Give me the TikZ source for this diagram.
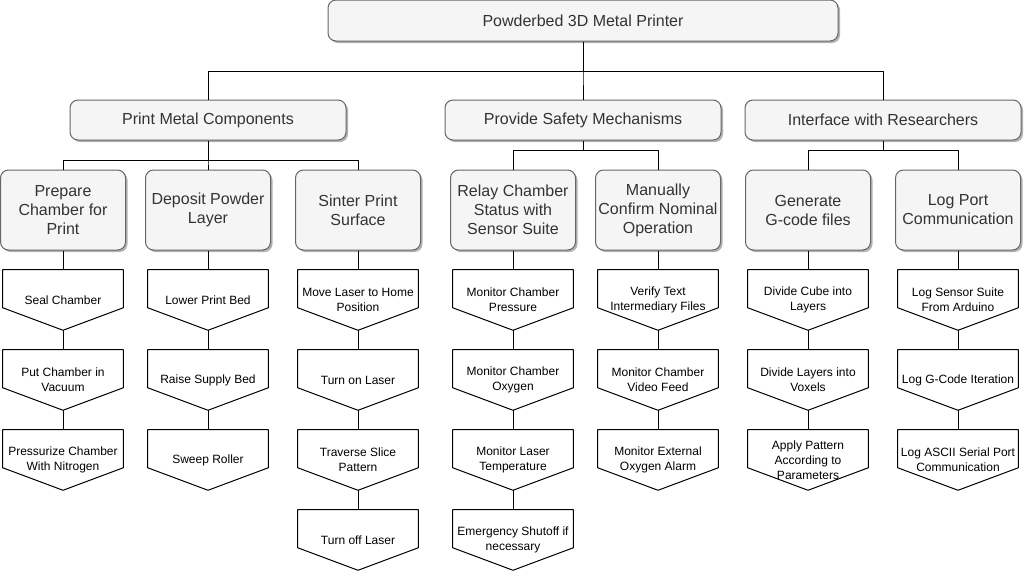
\documentclass[tikz,border=0pt]{standalone}
\usepackage{fontspec}
\setmainfont{Liberation Sans}
\usetikzlibrary{shadows}
\definecolor{boxfill}{HTML}{F5F5F5}
\definecolor{boxline}{HTML}{666666}
\definecolor{boxtext}{HTML}{333333}
\tikzset{
  goal/.style={draw=boxline, fill=boxfill, text=boxtext, line width=0.75pt, rounded corners=6pt,
    align=center, inner sep=0pt, font=\fontsize{12}{14.25}\selectfont,
    drop shadow={opacity=0.3, shadow xshift=1.5pt, shadow yshift=-1.5pt, fill=black}},
  topgoal/.style={goal, minimum width=382.5pt, minimum height=30.75pt},
  subgoal/.style={goal, minimum width=207pt, minimum height=30pt},
  task/.style={goal, minimum width=93.75pt, minimum height=60pt},
  leaf/.style={minimum width=90pt, minimum height=45pt, inner sep=0pt, align=center,
    font=\fontsize{9}{11.25}\selectfont},
  link/.style={draw=black, line width=0.75pt}
}
\begin{document}
\begin{tikzpicture}[x=0.75pt, y=-0.75pt, line join=round]
	\fill[white] (0,0) rectangle (1024,572);
	\useasboundingbox (0,0) rectangle (1024,572);
	% top and second level
	\node[topgoal] (printer) at (583,20.5) {Powderbed 3D Metal Printer};
	\node[subgoal] (metal) at (208,120) {Print Metal Components};
	\node[subgoal] (safety) at (583,120) {Provide Safety Mechanisms};
	\node[subgoal] (iface) at (883,120) {Interface with Researchers};
	% third level
	\node[task] (prep) at (63,210) {Prepare\\Chamber for\\Print};
	\node[task] (depo) at (208,210) {Deposit Powder\\Layer};
	\node[task] (sint) at (358,210) {Sinter Print\\Surface};
	\node[task] (relay) at (513,210) {Relay Chamber\\Status with\\Sensor Suite};
	\node[task] (manu) at (658,210) {Manually\\Confirm Nominal\\Operation};
	\node[task] (gcode) at (808,210) {Generate\\G-code files};
	\node[task] (logp) at (958,210) {Log Port\\Communication};
	% steps
	\node[leaf] (seal) at (63,300) {Seal Chamber};
	\node[leaf] (vac) at (63,380) {Put Chamber in\\Vacuum};
	\node[leaf] (nitro) at (63,460) {Pressurize Chamber\\With Nitrogen};
	\node[leaf] (lower) at (208,300) {Lower Print Bed};
	\node[leaf] (raise) at (208,380) {Raise Supply Bed};
	\node[leaf] (sweep) at (208,460) {Sweep Roller};
	\node[leaf] (home) at (358,300) {Move Laser to Home\\Position};
	\node[leaf] (lon) at (358,380) {Turn on Laser};
	\node[leaf] (slice) at (358,460) {Traverse Slice\\Pattern};
	\node[leaf] (loff) at (358,540) {Turn off Laser};
	\node[leaf] (press) at (513,300) {Monitor Chamber\\Pressure};
	\node[leaf] (oxy) at (513,380) {Monitor Chamber\\Oxygen};
	\node[leaf] (ltemp) at (513,460) {Monitor Laser\\Temperature};
	\node[leaf] (shut) at (513,540) {Emergency Shutoff if\\necessary};
	\node[leaf] (verify) at (658,300) {Verify Text\\Intermediary Files};
	\node[leaf] (video) at (658,380) {Monitor Chamber\\Video Feed};
	\node[leaf] (alarm) at (658,460) {Monitor External\\Oxygen Alarm};
	\node[leaf] (cube) at (808,300) {Divide Cube into\\Layers};
	\node[leaf] (voxel) at (808,380) {Divide Layers into\\Voxels};
	\node[leaf] (patt) at (808,460) {Apply Pattern\\According to\\Parameters};
	\node[leaf] (ard) at (958,300) {Log Sensor Suite\\From Arduino};
	\node[leaf] (iter) at (958,380) {Log G-Code Iteration};
	\node[leaf] (ascii) at (958,460) {Log ASCII Serial Port\\Communication};
	\foreach \n in {seal,vac,nitro,lower,raise,sweep,home,lon,slice,loff,press,oxy,ltemp,shut,verify,video,alarm,cube,voxel,patt,ard,iter,ascii}
		\draw[line width=0.75pt] (\n.north west) -- (\n.north east) -- ([yshift=16.875pt]\n.south east) -- (\n.south) -- ([yshift=16.875pt]\n.south west) -- cycle;
	% tree connectors
	\foreach \b in {metal,safety,iface}\draw[link] (printer.south) -- ++(0,29.5) -| (\b.north);
	\foreach \b in {prep,depo,sint}\draw[link] (metal.south) -- ++(0,20) -| (\b.north);
	\foreach \b in {relay,manu}\draw[link] (safety.south) -- ++(0,10) -| (\b.north);
	\foreach \b in {gcode,logp}\draw[link] (iface.south) -- ++(0,10) -| (\b.north);
	\foreach \a/\b in {prep/seal,seal/vac,vac/nitro,depo/lower,lower/raise,raise/sweep,sint/home,home/lon,lon/slice,slice/loff,relay/press,press/oxy,oxy/ltemp,ltemp/shut,manu/verify,verify/video,video/alarm,gcode/cube,cube/voxel,voxel/patt,logp/ard,ard/iter,iter/ascii}
		\draw[link] (\a.south) -- (\b.north);
\end{tikzpicture}
\end{document}
